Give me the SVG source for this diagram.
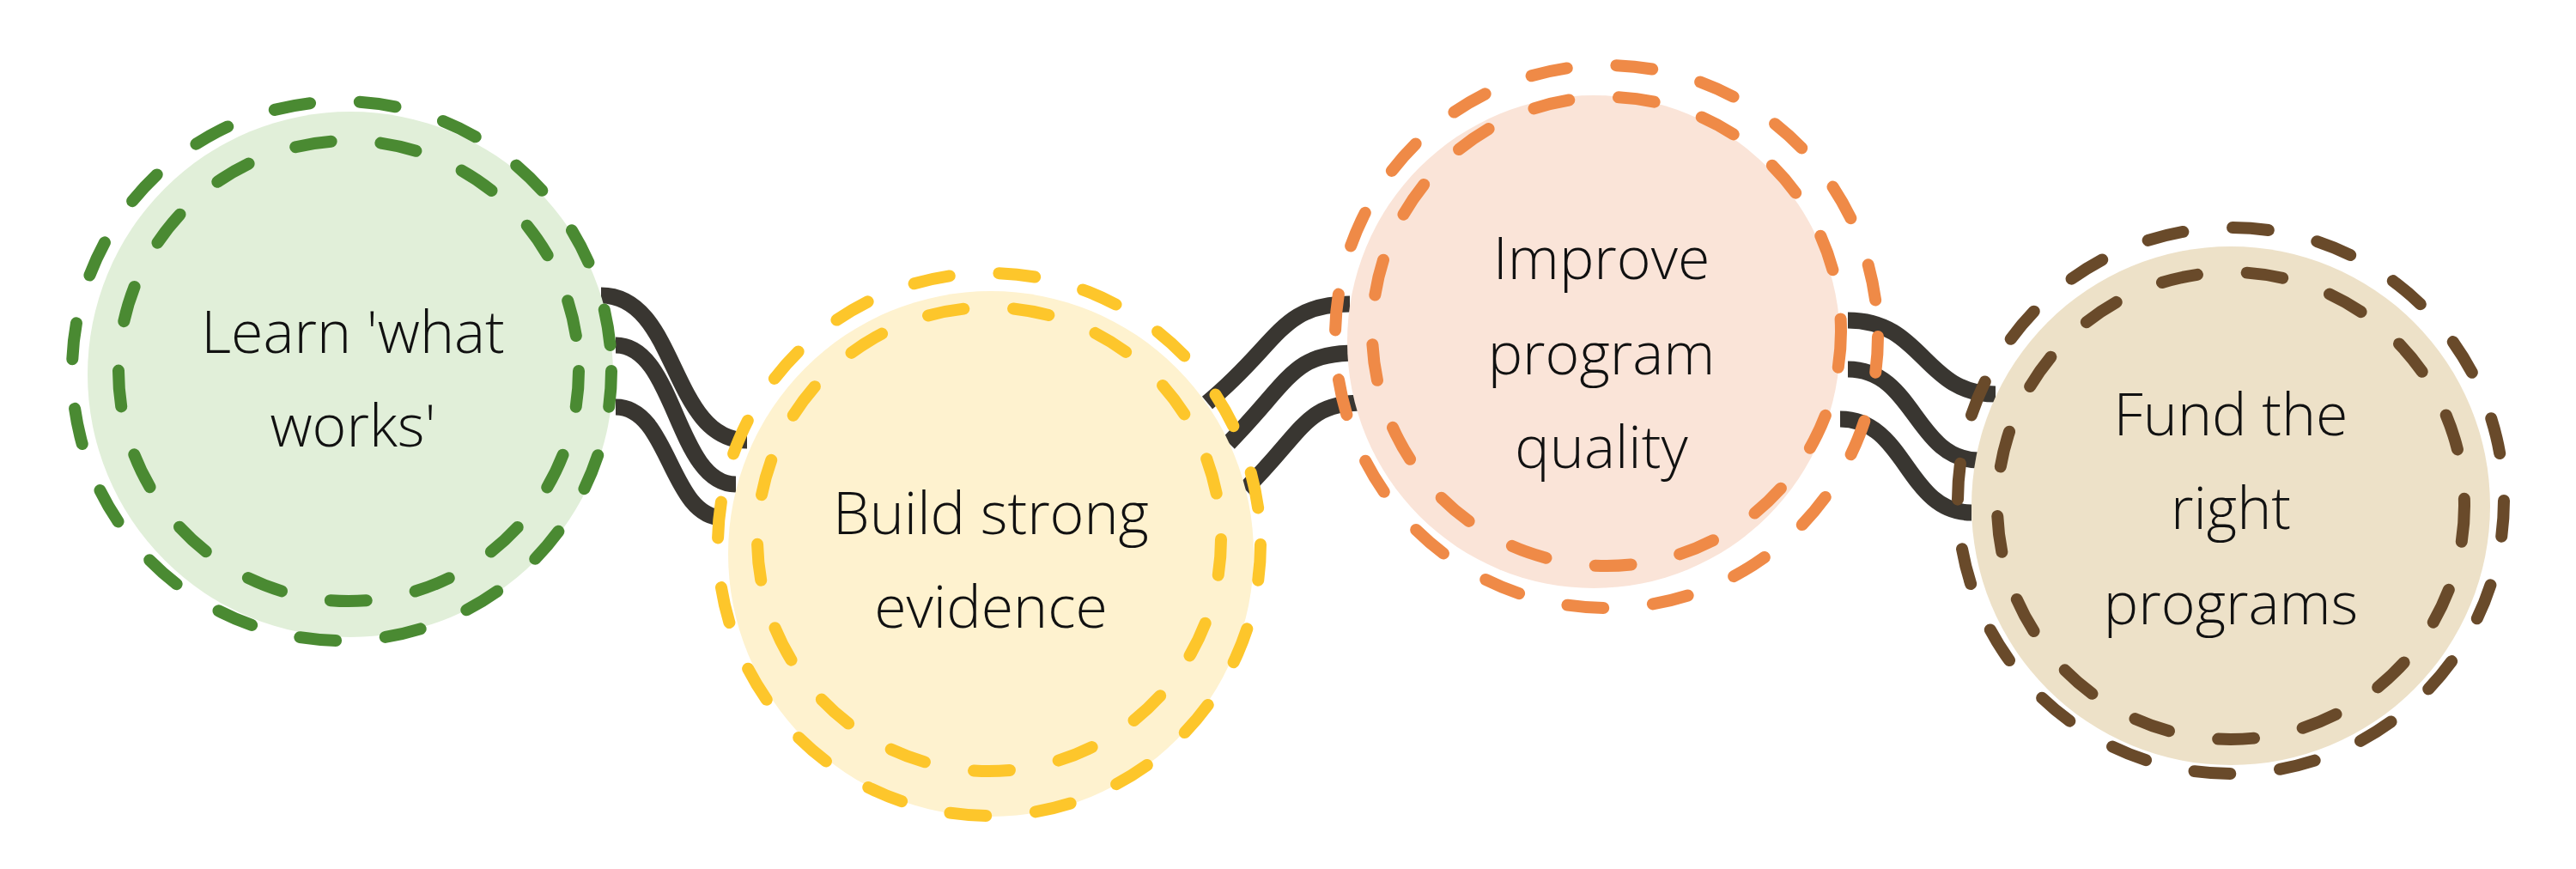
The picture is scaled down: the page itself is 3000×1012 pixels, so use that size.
<svg xmlns="http://www.w3.org/2000/svg" width="3000" height="1012" viewBox="0 0 3000 1012">
<style>
.c{fill:none;stroke:#393631;stroke-width:19;stroke-linecap:butt}
.r{fill:none;stroke-width:14;stroke-linecap:round;stroke-dasharray:42 58}
.t{font-family:"Open Sans","Liberation Sans",sans-serif;font-weight:300;font-size:68px;fill:#111;text-anchor:middle}
</style>
<rect width="3000" height="1012" fill="#fff"/>
<g id="connectors">
<path class="c" d="M700 344 C790 344 780 513 870 513"/>
<path class="c" d="M717 402 C787 402 787 564 857 564"/>
<path class="c" d="M717 474 C780 474 780 603 842 603"/>
<path class="c" d="M1406 469 C1490 400 1490 354 1572 354"/>
<path class="c" d="M1431 516 C1505 440 1505 411 1580 411"/>
<path class="c" d="M1450 570 C1520 500 1520 469 1588 469"/>
<path class="c" d="M2152 373 C2240 373 2240 459 2324 459"/>
<path class="c" d="M2152 430 C2230 430 2230 536 2305 536"/>
<path class="c" d="M2143 488 C2220 488 2220 597 2296 597"/>
</g>
<g id="node1">
<circle cx="408" cy="436" r="306" fill="#e1efd9"/>
<circle class="r" cx="398" cy="432" r="314" stroke="#4a8a32"/>
<circle class="r" cx="406" cy="432" r="268" stroke="#4a8a32" stroke-dasharray="34 60"/>
<text class="t" x="411" y="411">Learn 'what</text>
<text class="t" x="411" y="520">works'</text>
</g>
<g id="node2">
<circle cx="1154" cy="645" r="306" fill="#fef2cf"/>
<circle class="r" cx="1152" cy="634" r="316" stroke="#fdc62b"/>
<circle class="r" cx="1152" cy="628" r="270" stroke="#fdc62b" stroke-dasharray="34 60"/>
<text class="t" x="1154" y="622">Build strong</text>
<text class="t" x="1154" y="731">evidence</text>
</g>
<g id="node3">
<circle cx="1856" cy="398" r="287" fill="#fae4d8"/>
<circle class="r" cx="1871" cy="392" r="316" stroke="#ef8a47"/>
<circle class="r" cx="1871" cy="386" r="273" stroke="#ef8a47" stroke-dasharray="34 60"/>
<text class="t" x="1865" y="325">Improve</text>
<text class="t" x="1865" y="436">program</text>
<text class="t" x="1865" y="545">quality</text>
</g>
<g id="node4">
<circle cx="2598" cy="589" r="302" fill="#ede1c8"/>
<circle class="r" cx="2598" cy="583" r="318" stroke="#694a2a"/>
<circle class="r" cx="2598" cy="589" r="272" stroke="#694a2a" stroke-dasharray="34 60"/>
<text class="t" x="2598" y="507">Fund the</text>
<text class="t" x="2598" y="616">right</text>
<text class="t" x="2598" y="727">programs</text>
</g>
</svg>
